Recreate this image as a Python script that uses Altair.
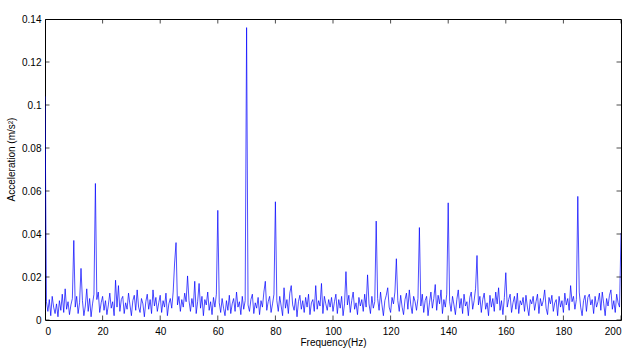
import altair as alt
import pandas as pd

# Frequency grid: 0 .. 200 Hz in 0.5 Hz steps (401 points)
freq_step = 0.5

# Acceleration amplitudes in units of 1e-4 m/s^2, 20 values per 10 Hz
amp_rows = [
    [1040, 85, 40, 95, 20, 110, 60, 30, 75, 15, 90, 45, 120, 35, 145, 50, 85, 25, 70, 100],
    [370, 60, 110, 30, 80, 240, 90, 20, 65, 145, 40, 100, 15, 75, 120, 635, 95, 130, 35, 80],
    [110, 45, 90, 25, 70, 125, 55, 85, 20, 185, 60, 160, 40, 95, 110, 30, 80, 50, 125, 70],
    [20, 90, 115, 45, 140, 60, 35, 100, 75, 15, 85, 120, 50, 95, 30, 140, 65, 105, 40, 80],
    [115, 35, 90, 60, 125, 20, 75, 100, 55, 130, 265, 360, 70, 110, 40, 95, 60, 125, 85, 205],
    [90, 40, 100, 60, 180, 30, 85, 170, 55, 110, 20, 95, 70, 130, 45, 85, 25, 105, 60, 120],
    [510, 80, 35, 100, 55, 20, 90, 45, 115, 30, 75, 100, 40, 130, 60, 85, 25, 110, 50, 90],
    [1360, 70, 40, 95, 120, 30, 80, 55, 105, 25, 90, 60, 130, 180, 45, 85, 110, 35, 75, 120],
    [550, 90, 40, 110, 65, 20, 150, 55, 95, 30, 125, 160, 70, 45, 100, 15, 85, 115, 50, 90],
    [35, 105, 60, 120, 25, 80, 95, 40, 160, 50, 90, 65, 170, 30, 110, 75, 45, 95, 60, 105],
    [40, 85, 120, 30, 95, 55, 110, 20, 75, 225, 70, 115, 35, 90, 130, 50, 80, 25, 105, 65],
    [95, 40, 120, 60, 210, 75, 30, 110, 55, 85, 460, 100, 45, 130, 70, 20, 90, 115, 150, 60],
    [35, 105, 75, 130, 285, 90, 40, 115, 60, 25, 95, 125, 50, 140, 70, 30, 110, 85, 45, 100],
    [430, 65, 120, 35, 90, 110, 20, 80, 130, 55, 100, 165, 45, 115, 75, 140, 30, 95, 60, 120],
    [545, 85, 40, 110, 70, 25, 95, 140, 55, 100, 30, 120, 65, 85, 20, 105, 130, 50, 90, 145],
    [300, 70, 110, 35, 95, 125, 50, 80, 20, 115, 60, 100, 40, 130, 75, 150, 45, 90, 25, 105],
    [220, 60, 95, 120, 35, 80, 110, 50, 125, 30, 90, 70, 105, 40, 115, 60, 20, 95, 75, 110],
    [45, 85, 120, 30, 100, 65, 90, 140, 55, 25, 105, 75, 115, 40, 80, 95, 20, 110, 60, 90],
    [35, 125, 70, 100, 45, 160, 85, 110, 50, 95, 575, 130, 60, 20, 90, 115, 40, 105, 120, 70],
    [95, 30, 110, 60, 85, 125, 45, 130, 75, 20, 100, 65, 115, 140, 50, 90, 35, 120, 80, 60],
    [405],
]

x_ticks = [0, 20, 40, 60, 80, 100, 120, 140, 160, 180, 200]
y_ticks = [0, 0.02, 0.04, 0.06, 0.08, 0.1, 0.12, 0.14]

amps = [v for row in amp_rows for v in row]
df = pd.DataFrame({
    "f": [i * freq_step for i in range(len(amps))],
    "a": [v / 10000.0 for v in amps],
})
xt = pd.DataFrame({"f": x_ticks})
yt = pd.DataFrame({"a": y_ticks})

W, H = 576, 301
FONT = "Liberation Sans"

xscale = alt.Scale(domain=[0, 200], nice=False, zero=False)
yscale = alt.Scale(domain=[0, 0.14], nice=False)

xaxis = alt.Axis(values=x_ticks, title="Frequency(Hz)", ticks=False, domain=False,
                 grid=False, labelPadding=6, titlePadding=1, labelFontSize=10,
                 titleFontSize=10, titleFontWeight="normal", labelColor="black",
                 titleColor="black", labelFont=FONT, titleFont=FONT)
yaxis = alt.Axis(values=y_ticks, title="Acceleration (m/s²)", ticks=False, domain=False,
                 grid=False, labelPadding=4, titlePadding=5, labelFontSize=10,
                 titleFontSize=10, titleFontWeight="normal", labelColor="black",
                 titleColor="black", labelFont=FONT, titleFont=FONT,
                 labelExpr="datum.value == 0 ? '0' : format(datum.value, '.2~f')",
                 titleY=140)

line = alt.Chart(df).mark_line(color="#0000ff", strokeWidth=0.7, clip=True).encode(
    x=alt.X("f:Q", scale=xscale, axis=xaxis),
    y=alt.Y("a:Q", scale=yscale, axis=yaxis),
)

tick_x_bottom = alt.Chart(xt).mark_tick(color="black", size=9, thickness=1, clip=True).encode(
    x=alt.X("f:Q", scale=xscale), y=alt.value(H))
tick_x_top = alt.Chart(xt).mark_tick(color="black", size=9, thickness=1, clip=True).encode(
    x=alt.X("f:Q", scale=xscale), y=alt.value(0))
tick_y_left = alt.Chart(yt).mark_tick(color="black", size=9, thickness=1, clip=True).encode(
    y=alt.Y("a:Q", scale=yscale), x=alt.value(0))
tick_y_right = alt.Chart(yt).mark_tick(color="black", size=9, thickness=1, clip=True).encode(
    y=alt.Y("a:Q", scale=yscale), x=alt.value(W))

chart = alt.layer(line, tick_x_bottom, tick_x_top, tick_y_left, tick_y_right).properties(
    width=W, height=H,
    autosize=alt.AutoSizeParams(type="none"),
    padding={"left": 45, "top": 19, "right": 19, "bottom": 39},
    background="white",
).configure_view(stroke="black", strokeWidth=1)

chart.save("out.html", embed_options={"renderer": "svg", "actions": False})
